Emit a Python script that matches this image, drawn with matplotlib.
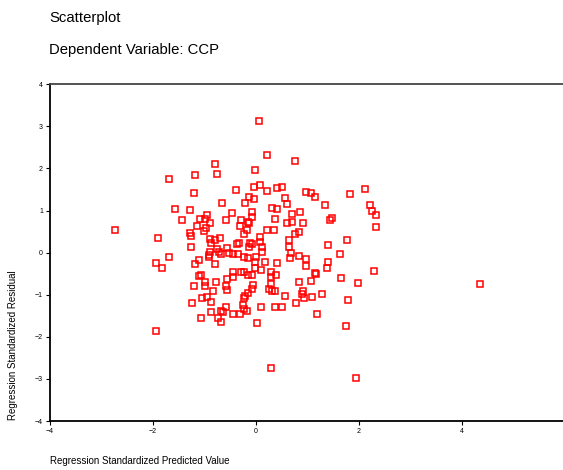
import numpy as np
from matplotlib import pyplot as plt

plt.rcParams['font.family'] = ['Liberation Sans', 'DejaVu Sans']

# standardized predicted value (x) and standardized residual (y)
pred = [-0.80, -1.69, -1.18, -0.76, -1.20, -0.39, -0.14, -1.57, -1.28, -0.66,
        -0.21, -0.47, -0.95, -1.44, -1.09, -0.99, -0.89, -0.58, -0.29, -0.16,
        -2.74, -1.15, -0.97, -1.01, -0.31, -0.17, -1.28, -1.26, -1.90, -0.89,
        -0.80, -0.70, -0.23, -1.26, -0.87, -0.37, -0.33, -0.14, -0.56, -0.76,
        -0.89, -0.72, -0.68, -0.52, -0.45, -0.35, -0.23, -1.69, -0.91, -0.91,
        -1.11, -0.16, -1.94, -1.83, -1.18, -0.80, -1.07, -0.99, -0.78, -1.20,
        -0.99, -0.56, -0.45, -0.45, -0.29, -0.23, -0.16, -0.58, -0.56, -0.83,
        -0.16, -0.21, -0.23, -1.24, -1.05, -0.95, -0.87, -0.25, -0.58, -0.23,
        -0.17, -0.68, -0.64, -0.87, -0.45, -0.31, -1.07, -0.74, -0.68, -1.94,
        -1.11,
        0.06, 0.21, 0.76, -0.02, -0.04, 0.08, 0.21, 0.41, 0.50, 0.97,
        1.07, 1.15, 0.56, -0.04, 0.31, 0.41, 0.60, 1.34, 1.83, 2.12,
        2.21, 2.25, 2.33, 2.33, -0.08, -0.08, 0.85, 0.70, 0.37, 0.70,
        0.60, 0.91, 1.48, 1.44, -0.14, 0.21, 0.35, 0.83, 0.76, 0.08,
        0.64, 0.08, -0.08, 0.12, 0.64, 1.40, 1.77, -0.12, 0.00, 0.68,
        0.66, 0.83, 0.97, 0.97, 1.40, 1.38, 1.63, -0.02, 0.17, 0.41,
        -0.02, 0.10, -0.08, 0.29, 0.29, 0.39, 1.15, 1.17, 2.29, 1.65,
        1.98, 0.83, 1.07, -0.06, -0.08, 0.29, 0.25, 0.31, 0.37, 0.56,
        0.91, 0.89, 0.93, 1.09, 1.28, 0.78, 1.79, 0.10, 0.37, 0.50,
        1.18, 0.02, 1.75, 0.12, 0.29, 1.94, 4.35]
resid = [2.10, 1.75, 1.84, 1.86, 1.41, 1.48, 1.32, 1.03, 1.01, 1.18,
         1.18, 0.94, 0.89, 0.77, 0.80, 0.80, 0.70, 0.77, 0.77, 0.72,
         0.53, 0.63, 0.58, 0.51, 0.63, 0.53, 0.46, 0.39, 0.34, 0.32,
         0.30, 0.34, 0.44, 0.13, 0.23, 0.20, 0.23, 0.13, 0.11, 0.08,
         0.01, 0.01, -0.04, -0.01, -0.04, -0.04, -0.11, -0.11, -0.06, -0.11,
         -0.18, -0.13, -0.25, -0.37, -0.27, -0.27, -0.53, -0.70, -0.70, -0.80,
         -0.80, -0.63, -0.46, -0.58, -0.46, -0.46, -0.53, -0.80, -0.89, -0.91,
         -0.96, -1.03, -1.08, -1.20, -1.08, -1.06, -1.18, -1.25, -1.29, -1.34,
         -1.39, -1.39, -1.41, -1.41, -1.46, -1.46, -1.56, -1.56, -1.65, -1.86,
         -0.56,
         3.12, 2.32, 2.17, 1.96, 1.56, 1.60, 1.46, 1.53, 1.56, 1.44,
         1.41, 1.32, 1.29, 1.27, 1.06, 1.03, 1.15, 1.13, 1.39, 1.51,
         1.13, 0.99, 0.89, 0.61, 0.96, 0.84, 0.96, 0.91, 0.80, 0.72,
         0.70, 0.70, 0.82, 0.77, 0.70, 0.53, 0.53, 0.49, 0.44, 0.37,
         0.30, 0.25, 0.20, 0.13, 0.13, 0.18, 0.30, 0.23, -0.11, -0.01,
         -0.13, -0.08, -0.15, -0.32, -0.23, -0.37, -0.04, -0.23, -0.23, -0.25,
         -0.37, -0.42, -0.53, -0.46, -0.58, -0.53, -0.49, -0.51, -0.44, -0.61,
         -0.72, -0.70, -0.68, -0.77, -0.87, -0.75, -0.87, -0.91, -0.91, -1.03,
         -0.91, -0.99, -1.08, -1.06, -0.99, -1.20, -1.13, -1.29, -1.29, -1.29,
         -1.46, -1.67, -1.75, 0.01, -2.74, -2.98, -0.75]

xticks = [-4, -2, 0, 2, 4]
yticks = [-4, -3, -2, -1, 0, 1, 2, 3, 4]

fig = plt.figure(figsize=(5.63, 4.70), dpi=100)
ax = fig.add_axes([0.0888, 0.104, 0.915, 0.717])

ax.plot(pred, resid, 's', ms=4.3, mfc='none', mec='#ff0000', mew=1.1)

ax.set_xlim(-4, 6)
ax.set_ylim(-4, 4)
ax.set_xticks(xticks)
ax.set_yticks(yticks)
ax.tick_params(labelsize=5, length=3, width=0.8, pad=2)

ax.spines['right'].set_visible(False)
ax.spines['top'].set_color('#444444')
for s in ['left', 'bottom', 'top']:
    ax.spines[s].set_linewidth(1.3)

fig.text(0.087, 0.962, 'Scatterplot', fontsize=10.7, va='center')
fig.text(0.087, 0.894, 'Dependent Variable: CCP', fontsize=10.7, va='center')
fig.text(0.089, 0.019, 'Regression Standardized Predicted Value', fontsize=7, va='center')
fig.text(0.023, 0.106, 'Regression Standardized Residual', fontsize=7,
         rotation=90, ha='center', va='bottom')

fig.savefig('out.png', dpi=100)
